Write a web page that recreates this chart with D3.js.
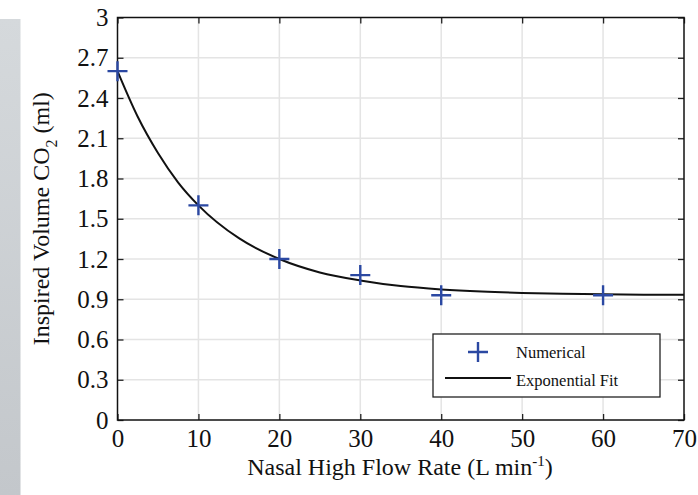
<!DOCTYPE html>
<html>
<head>
<meta charset="utf-8">
<script src="https://cdn.jsdelivr.net/npm/d3@7"></script>
<style>
  body { margin: 0; background: #fff; }
  svg text { font-family: "Liberation Serif", "DejaVu Serif", serif; }
</style>
</head>
<body>
<div id="chart"></div>
<script>
// numerical results
const flowRates = [0, 10, 20, 30, 40, 60];
const inspiredCO2 = [2.6, 1.6, 1.2, 1.08, 0.93, 0.93];

// exponential fit
const fitFlow = [0, 2.5, 5, 7.5, 10, 15, 20, 25, 30, 35, 40, 45, 50, 55, 60, 65, 70];
const fitCO2 = [2.6, 2.26, 1.99, 1.77, 1.6, 1.355, 1.2, 1.1, 1.04, 0.998, 0.973, 0.957, 0.947, 0.941, 0.937, 0.934, 0.933];

const xTicks = [0, 10, 20, 30, 40, 50, 60, 70];
const yTicks = [0, 0.3, 0.6, 0.9, 1.2, 1.5, 1.8, 2.1, 2.4, 2.7, 3];

const W = 698, H = 495;
const margin = { top: 17.5, right: 14, bottom: 75, left: 117.5 };
const serif = "'Liberation Serif', 'DejaVu Serif', serif";

const svg = d3.select("#chart").append("svg")
  .attr("width", W)
  .attr("height", H);

// grey strip on the left edge
const grad = svg.append("defs").append("linearGradient")
  .attr("id", "strip").attr("x1", 0).attr("y1", 0).attr("x2", 0).attr("y2", 1);
grad.append("stop").attr("offset", "0%").attr("stop-color", "#d5d9dc");
grad.append("stop").attr("offset", "100%").attr("stop-color", "#c3c7cb");
svg.append("rect")
  .attr("x", 0).attr("y", 19).attr("width", 20.5).attr("height", H - 19)
  .attr("fill", "url(#strip)");

const x = d3.scaleLinear().domain([0, 70]).range([margin.left, W - margin.right]);
const y = d3.scaleLinear().domain([0, 3]).range([H - margin.bottom, margin.top]);

const x0 = x(0), x1 = x(70), y0 = y(0), y1 = y(3);

// grid
svg.append("g")
  .selectAll("line")
  .data(xTicks.slice(1, -1))
  .join("line")
  .attr("x1", d => x(d)).attr("x2", d => x(d))
  .attr("y1", y1).attr("y2", y0)
  .attr("stroke", "#e4e4e4").attr("stroke-width", 1.5);

svg.append("g")
  .selectAll("line")
  .data(yTicks.slice(1, -1))
  .join("line")
  .attr("x1", x0).attr("x2", x1)
  .attr("y1", d => y(d)).attr("y2", d => y(d))
  .attr("stroke", "#e4e4e4").attr("stroke-width", 1.5);

// axes (inner ticks on all four sides)
const tickLen = 6;
svg.append("g")
  .attr("transform", `translate(0,${y0})`)
  .call(d3.axisBottom(x).tickValues(xTicks).tickSize(-tickLen).tickPadding(9).tickFormat(d3.format("d")));
svg.append("g")
  .attr("transform", `translate(0,${y1})`)
  .call(d3.axisTop(x).tickValues(xTicks).tickSize(-tickLen).tickFormat(""));
svg.append("g")
  .attr("transform", `translate(${x0},0)`)
  .call(d3.axisLeft(y).tickValues(yTicks).tickSize(-tickLen).tickPadding(9)
    .tickFormat(d => d === 0 || d === 3 ? d3.format("d")(d) : d3.format(".1f")(d)));
svg.append("g")
  .attr("transform", `translate(${x1},0)`)
  .call(d3.axisRight(y).tickValues(yTicks).tickSize(-tickLen).tickFormat(""));

svg.selectAll(".domain").remove();
svg.selectAll(".tick line").attr("stroke", "#222").attr("stroke-width", 1.3);
svg.selectAll(".tick text")
  .attr("fill", "#111")
  .style("font-family", serif)
  .style("font-size", "25px");

// frame
svg.append("rect")
  .attr("x", x0).attr("y", y1)
  .attr("width", x1 - x0).attr("height", y0 - y1)
  .attr("fill", "none").attr("stroke", "#111").attr("stroke-width", 1.5);

// fit curve
const fitData = fitFlow.map((f, i) => [f, fitCO2[i]]);
svg.append("path")
  .datum(fitData)
  .attr("fill", "none")
  .attr("stroke", "#111")
  .attr("stroke-width", 2)
  .attr("d", d3.line().x(d => x(d[0])).y(d => y(d[1])).curve(d3.curveMonotoneX));

// numerical markers
const markerColor = "#2b48a2";
const drawPlus = (g, cx, cy) => {
  g.append("path")
    .attr("d", `M${cx - 10},${cy}H${cx + 10}M${cx},${cy - 10}V${cy + 10}`)
    .attr("stroke", markerColor)
    .attr("stroke-width", 2.4)
    .attr("fill", "none");
};
const markers = svg.append("g");
flowRates.forEach((f, i) => drawPlus(markers, x(f), y(inspiredCO2[i])));

// legend
const leg = svg.append("g");
leg.append("rect")
  .attr("x", 433).attr("y", 334).attr("width", 227).attr("height", 63)
  .attr("fill", "#fff").attr("stroke", "#222").attr("stroke-width", 1.3);
drawPlus(leg, 478, 352);
leg.append("line")
  .attr("x1", 445).attr("x2", 511).attr("y1", 378).attr("y2", 378)
  .attr("stroke", "#111").attr("stroke-width", 2.2);
leg.append("text").attr("x", 516).attr("y", 358)
  .style("font-family", serif)
  .style("font-size", "16.5px").attr("fill", "#111").text("Numerical");
leg.append("text").attr("x", 516).attr("y", 386)
  .style("font-family", serif)
  .style("font-size", "16.5px").attr("fill", "#111").text("Exponential Fit");

// axis titles
const xt = svg.append("text")
  .attr("x", 400).attr("y", 475)
  .attr("text-anchor", "middle")
  .style("font-family", serif)
  .style("font-size", "24px").attr("fill", "#111");
xt.append("tspan").text("Nasal High Flow Rate (L min");
xt.append("tspan").attr("dy", -9).style("font-size", "15px").text("-1");
xt.append("tspan").attr("dy", 9).text(")");

const yt = svg.append("text")
  .attr("transform", `translate(49,${(y0 + y1) / 2}) rotate(-90)`)
  .attr("text-anchor", "middle")
  .style("font-family", serif)
  .style("font-size", "24px").attr("fill", "#111");
yt.append("tspan").text("Inspired Volume CO");
yt.append("tspan").attr("dy", 8).style("font-size", "16px").text("2");
yt.append("tspan").attr("dy", -8).text(" (ml)");
</script>
</body>
</html>
